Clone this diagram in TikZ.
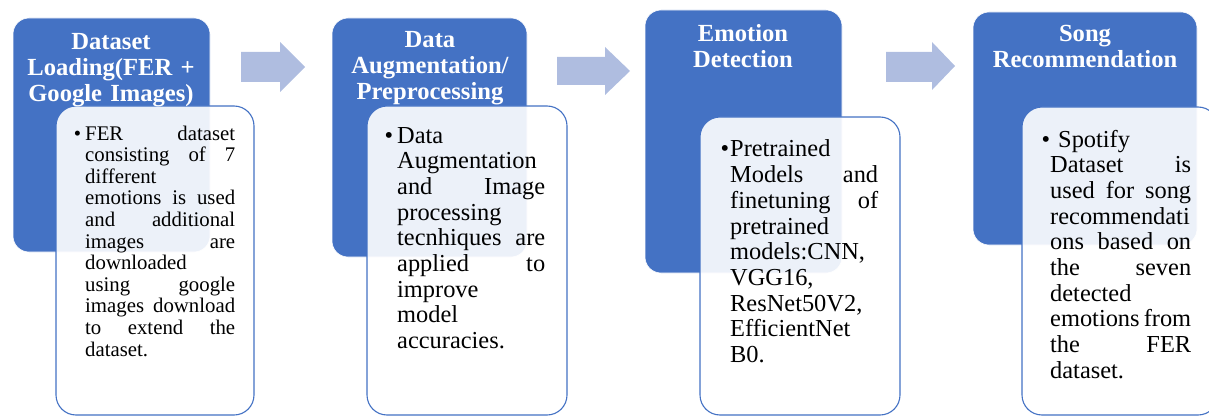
\documentclass[tikz,border=0pt]{standalone}
\usepackage{fontspec}
\setmainfont{Liberation Serif}
\definecolor{stageblue}{HTML}{4472C4}
\definecolor{arrowblue}{HTML}{AFBDE0}

\begin{document}
\begin{tikzpicture}[x=1pt,y=-1pt]

    \tikzset{
      stage/.style={
        fill=stageblue,
        draw=white,
        line width=0.6pt,
        rounded corners=16pt,
      },
      detail/.style={
        fill=white,
        fill opacity=0.9,
        draw=stageblue,
        line width=1.1pt,
        rounded corners=20pt,
      },
      flowarrow/.style={fill=arrowblue},
      stagehead/.style={anchor=base, inner sep=0pt, align=center, text=white,
        font=\bfseries\fontsize{24.6}{25.8}\selectfont},
      stagetext/.style={anchor=base west, inner sep=0pt, text=black,
        font=\fontsize{24.4}{25.7}\selectfont},
    }
    \useasboundingbox (0,0) rectangle (1209,417);
    \clip (0,0) rectangle (1209,417);

	% blue stage boxes
	\draw[stage] (13,18) rectangle (210,252);
	\draw[stage] (332,18) rectangle (527,257);
	\draw[stage] (645,10) rectangle (842,273);
	\draw[stage] (973,12) rectangle (1197,245);
	% detail boxes
	\draw[detail] (56,106) rectangle (254,415);
	\draw[detail] (367,106) rectangle (567,415);
	\draw[detail] (700,117) rectangle (900,415);
	\draw[detail] (1022,107) rectangle (1218,415);
	% arrows
	\fill[flowarrow] (241,52) -- (280,52) -- (280,42) -- (305,67) -- (280,92) -- (280,82) -- (241,82) -- cycle;
	\fill[flowarrow] (557,57) -- (605,57) -- (605,47) -- (630,71) -- (605,95) -- (605,85) -- (557,85) -- cycle;
	\fill[flowarrow] (886,52) -- (932,52) -- (932,42) -- (955,66) -- (932,90) -- (932,82) -- (886,82) -- cycle;

	\node[stagehead, text width=195pt] (loadhead) at (111,50) {Dataset\\ Loading(FER +\\ Google Images)};
	\node[stagehead, text width=195pt] (augmenthead) at (430,48) {Data\\ Augmentation/\\ Preprocessing};
	\node[stagehead, text width=195pt] (detecthead) at (743,42) {Emotion\\ Detection};
	\node[stagehead, text width=220pt] (songhead) at (1085,42) {Song\\ Recommendation};

	\node[stagetext, text width=150pt, font=\fontsize{20.8}{21.6}\selectfont] (loadtext) at (85,140) {%
	  \llap{\textbullet\hspace{4pt}}FER\hfill dataset\\
	  consisting\hfill of\hfill 7\\
	  different\\
	  emotions\hfill is\hfill used\\
	  and\hfill additional\\
	  images\hfill are\\
	  downloaded\\
	  using\hfill google\\
	  images\hfill download\\
	  to\hfill extend\hfill the\\
	  dataset.};
	\node[stagetext, text width=148pt] (augmenttext) at (397,143) {%
	  \llap{\textbullet\hspace{4pt}}Data\\
	  Augmentation\\
	  and\hfill Image\\
	  processing\\
	  tecnhiques\hfill are\\
	  applied\hfill to\\
	  improve\\
	  model\\
	  accuracies.};
	\node[stagetext, text width=148pt] (detecttext) at (730,157) {%
	  \llap{\textbullet\hspace{1pt}}Pretrained\\
	  Models\hfill and\\
	  finetuning\hfill of\\
	  pretrained\\
	  models:CNN,\\
	  VGG16,\\
	  ResNet50V2,\\
	  EfficientNet\\
	  B0.};
	\node[stagetext, text width=141pt] (songtext) at (1050,147) {%
	  \llap{\textbullet}\hspace{8pt}Spotify\\
	  Dataset\hfill is\\
	  used\hfill for\hfill song\\
	  recommendati\\
	  ons\hfill based\hfill on\\
	  the\hfill seven\\
	  detected\\
	  emotions\hfill from\\
	  the\hfill FER\\
	  dataset.};

\end{tikzpicture}
\end{document}
